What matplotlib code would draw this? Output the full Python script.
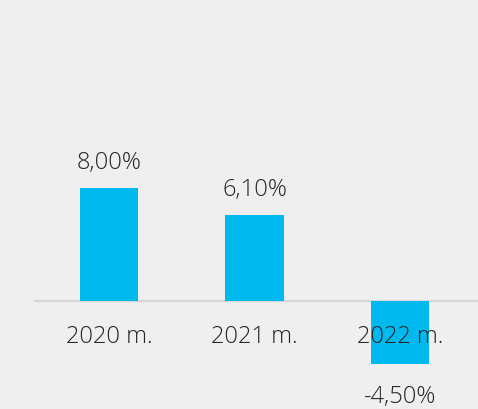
import matplotlib
matplotlib.use('Agg')
import matplotlib.pyplot as plt

# data
categories = ['2020 m.', '2021 m.', '2022 m.']
values = [8.00, 6.10, -4.50]
value_labels = ['8,00%', '6,10%', '-4,50%']

BG = '#efefef'
BAR = '#00b9ef'
TXT = '#262626'

fig = plt.figure(figsize=(4.78, 4.10), dpi=100)
fig.patch.set_facecolor(BG)
ax = fig.add_axes([0, 0, 1, 1])
ax.set_facecolor(BG)

x = list(range(len(categories)))
ax.bar(x, values, width=0.4, color=BAR, zorder=2)

# baseline
ax.plot([-0.51, 2.6], [0, 0], color='#d6d6d6', lw=1.5, zorder=1)

font = dict(family='Open Sans', weight='light', fontsize=17, color=TXT)

for xi, v, lab, cat in zip(x, values, value_labels, categories):
    if v >= 0:
        ax.annotate(lab, (xi, v), xytext=(0, 26), textcoords='offset pixels',
                    ha='center', va='center', **font)
    else:
        ax.annotate(lab, (xi, v), xytext=(0, -32), textcoords='offset pixels',
                    ha='center', va='center', **font)
    ax.annotate(cat, (xi, 0), xytext=(0, -35), textcoords='offset pixels',
                ha='center', va='center', zorder=3, **font)

ax.set_xlim(-0.749, 2.536)
ax.set_ylim(-7.68, 21.40)
ax.axis('off')

fig.savefig('out.png', dpi=100, facecolor=BG)
